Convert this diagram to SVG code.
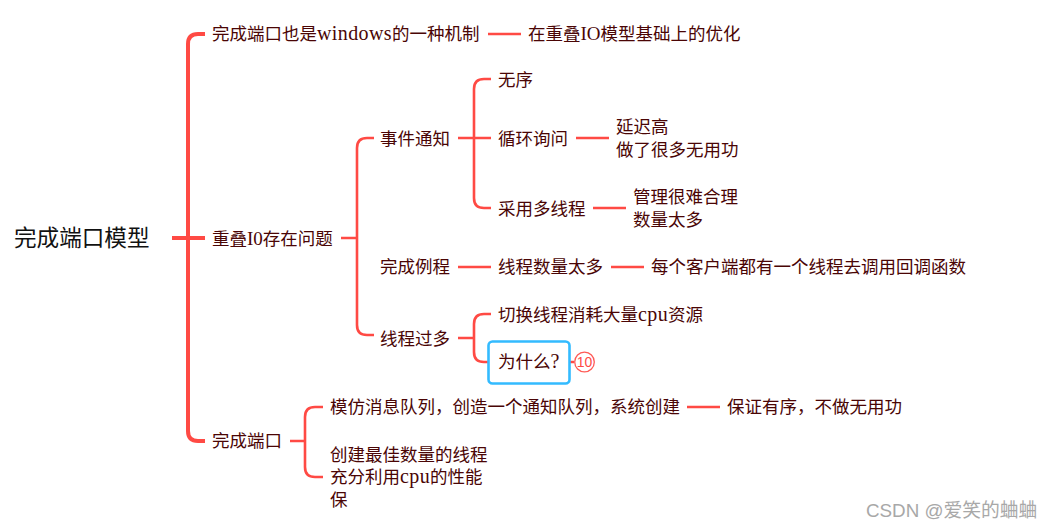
<svg xmlns="http://www.w3.org/2000/svg" width="1051" height="529" viewBox="0 0 1051 529">
<style>
text{font-family:"Liberation Serif","Noto Sans CJK SC",serif;font-size:17.5px;fill:#4a0505}
.la{font-size:20px;letter-spacing:.4px}
.lb{font-size:19px}
.root{font-size:22.6px;fill:#111;font-family:"Liberation Sans","Noto Sans CJK SC",sans-serif}
.l{fill:none;stroke:#ff4a44;stroke-width:2.6;stroke-linecap:butt}
.m{fill:none;stroke:#ff4a44;stroke-width:4}
.wm{font-family:"Liberation Sans","Noto Sans CJK SC",sans-serif;font-size:18.8px;fill:#a8a8a8}
</style>
<rect width="1051" height="529" fill="#fff"/>
<g id="connectors">
<path class="m" d="M205 34H198Q188 34 188 44V431Q188 441 198 441H205M172 238H205"/>
<path class="l" d="M341 238H357M374 138H367Q357 138 357 148V325Q357 335 367 335H374"/>
<path class="l" d="M458 138H491M491 79H484Q474 79 474 89V198Q474 208 484 208H491"/>
<path class="l" d="M458 267H491M458 338H474M491 314H484Q474 314 474 324V352Q474 362 484 362H491"/>
<path class="l" d="M488 34H521M576 138H609M593 208H626M611 267H644M687 407H720M567 362H574"/>
<path class="l" d="M290 441H305M323 407H315Q305 407 305 417V467Q305 477 315 477H323"/>
</g>
<g id="root"><text class="root" x="14" y="246">完成端口模型</text></g>
<g id="n1"><text x="212" y="40">完成端口也是<tspan class="la">windows</tspan>的一种机制</text></g>
<g id="n1a"><text x="528" y="40">在重叠<tspan class="lb">IO</tspan>模型基础上的优化</text></g>
<g id="n2"><text x="212" y="245">重叠<tspan class="lb">I0</tspan>存在问题</text></g>
<g id="n3"><text x="380" y="145">事件通知</text></g>
<g id="n3a"><text x="498" y="86">无序</text></g>
<g id="n3b"><text x="498" y="145">循环询问</text></g>
<g id="n3b1"><text x="616" y="133">延迟高</text><text x="616" y="156">做了很多无用功</text></g>
<g id="n3c"><text x="498" y="215">采用多线程</text></g>
<g id="n3c1"><text x="633" y="203">管理很难合理</text><text x="633" y="226">数量太多</text></g>
<g id="n4"><text x="380" y="273">完成例程</text></g>
<g id="n4a"><text x="498" y="273">线程数量太多</text></g>
<g id="n4a1"><text x="651" y="273">每个客户端都有一个线程去调用回调函数</text></g>
<g id="n5"><text x="380" y="345">线程过多</text></g>
<g id="n5a"><text x="498" y="321">切换线程消耗大量<tspan class="la">cpu</tspan>资源</text></g>
<g id="n5b"><rect x="488.500" y="341.500" width="81" height="42" rx="4" fill="#fff" stroke="#33bbff" stroke-width="2.600"/><text x="498" y="368">为什么<tspan class="la">?</tspan></text></g>
<g id="badge"><circle cx="584.500" cy="362" r="9.800" fill="#fff" stroke="#ff5a55" stroke-width="1.300"/><text x="584.500" y="367" text-anchor="middle" style="font-family:'Liberation Sans',sans-serif;font-size:14px;fill:#ff4a44">10</text></g>
<g id="n6"><text x="212" y="447">完成端口</text></g>
<g id="n6a"><text x="330" y="413">模仿消息队列，创造一个通知队列，系统创建</text></g>
<g id="n6a1"><text x="727" y="413">保证有序，不做无用功</text></g>
<g id="n6b"><text x="330" y="461">创建最佳数量的线程</text><text x="330" y="483">充分利用<tspan class="la">cpu</tspan>的性能</text><text x="330" y="506">保</text></g>
<text class="wm" x="866" y="517">CSDN @爱笑的蛐蛐</text>
</svg>
